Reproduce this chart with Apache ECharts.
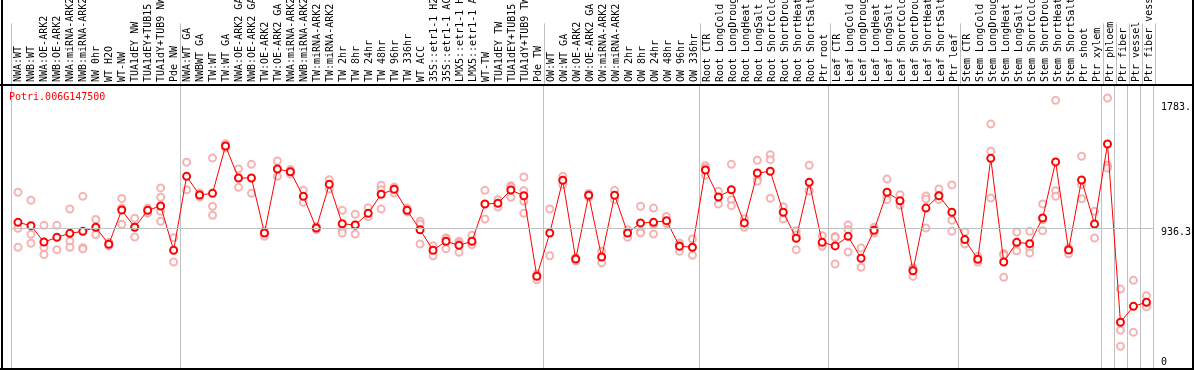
<!DOCTYPE html>
<html><head><meta charset="utf-8">
<script src="https://cdn.jsdelivr.net/npm/echarts@6/dist/echarts.min.js"></script>
<style>html,body{margin:0;padding:0;background:#fff}#c{width:1194px;height:370px}</style>
</head><body><div id="c"></div>
<script>
const geneId = 'Potri.006G147500';
const categories = [
 'NWA:WT','NWB:WT','NWA:OE-ARK2','NWB:OE-ARK2','NWA:miRNA-ARK2','NWB:miRNA-ARK2','NW 0hr','WT H2O','WT-NW','TUA1dEY NW',
 'TUA1dEY+TUB15 NW','TUA1dY+TUB9 NW','Pde NW','NWA:WT GA','NWBWT GA','TW:WT','TW:WT GA','NWA:OE-ARK2 GA','NWB:OE-ARK2 GA','TW:OE-ARK2',
 'TW:OE-ARK2 GA','NWA:miRNA-ARK2 GA','NWB:miRNA-ARK2 GA','TW:miRNA-ARK2','TW:miRNA-ARK2 GA','TW 2hr','TW 8hr','TW 24hr','TW 48hr','TW 96hr',
 'TW 336hr','WT ACC','35S::etr1-1 H2O','35S::etr1-1 ACC','LMX5::etr1-1 H2O','LMX5::etr1-1 ACC','WT-TW','TUA1dEY TW','TUA1dEY+TUB15 TW','TUA1dY+TUB9 TW',
 'Pde TW','OW:WT','OW:WT GA','OW:OE-ARK2','OW:OE-ARK2 GA','OW:miRNA-ARK2','OW:miRNA-ARK2 GA','OW 2hr','OW 8hr','OW 24hr',
 'OW 48hr','OW 96hr','OW 336hr','Root CTR','Root LongCold','Root LongDrought','Root LongHeat','Root LongSalt','Root ShortCold','Root ShortDrought',
 'Root ShortHeat','Root ShortSalt','Ptr root','Leaf CTR','Leaf LongCold','Leaf LongDrought','Leaf LongHeat','Leaf LongSalt','Leaf ShortCold','Leaf ShortDrought',
 'Leaf ShortHeat','Leaf ShortSalt','Ptr leaf','Stem CTR','Stem LongCold','Stem LongDrought','Stem LongHeat','Stem LongSalt','Stem ShortCold','Stem ShortDrought',
 'Stem ShortHeat','Stem ShortSalt','Ptr shoot','Ptr xylem','Ptr phloem','Ptr fiber','Ptr vessel','Ptr fiber vessel'
];
const means = [
 976, 954, 845, 876, 903, 916, 943, 830, 1058, 943,
 1056, 1085, 790, 1282, 1158, 1169, 1484, 1271, 1271, 905,
 1331, 1313, 1149, 938, 1229, 967, 958, 1036, 1163, 1196,
 1056, 927, 790, 850, 823, 850, 1098, 1103, 1191, 1153,
 617, 905, 1256, 732, 1156, 745, 1156, 905, 972, 976,
 987, 817, 810, 1324, 1145, 1193, 972, 1304, 1316, 1043,
 870, 1242, 843, 819, 883, 737, 923, 1176, 1120, 654,
 1071, 1153, 1043, 861, 730, 1402, 712, 843, 834, 1005,
 1378, 792, 1258, 965, 1497, 311, 417, 444
];
const replicates = [
 [1176,936,810],[1123,896,837],[956,809,762],[956,794],[1065,850,810],[1149,807,799],[995,938,895],[842,829,819],[1135,1071,963],[1003,945,878],
 [1071,1058,1038],[1205,1143,1049,983],[874,712],[1376,1193],[1171,1158,1145],[1404,1083,1023],[1499,1484,1471],[1331,1209],[1362,1169],[918,905,883],
 [1384,1282],[1328,1314,1298],[1189,1109],[948,938,927],[1260,1198],[1056,927,905],[1030,958,898],[1073,1014],[1223,1193,1065],[1211,1198,1171],
 [1071,1056,1045],[983,965,832],[821,754],[872,868,801],[850,839,777],[890,835,827],[1189,998],[1127,1078],[1220,1211,1143],[1278,1187,1116,1036],
 [632,617,594],[1065,754],[1282,1227],[742,732,719],[1168,1156,1145],[783,707],[1189,1127],[927,876],[1083,916,905],[1071,960,898],
 [1015,978,968],[839,825,783],[865,757],[1353,1338,1289],[1183,1098],[1362,1127,1087],[1000,943],[1389,1266,1249],[1426,1393,1136],[1080,998],
 [920,892,794],[1356,1187,1185],[887,825,817],[882,875,699],[958,927,779],[805,677],[943,925,905],[1264,1149,1127],[1160,1089],[672,669,617],
 [1151,1131,938],[1198,1158,1127],[1225,990,916],[912,839,832],[750,730,712],[1630,1449,1138],[769,759,610],[912,839,787],[916,805,772],[1098,992,920],
 [1788,1187,1149],[805,799,767],[1416,1227,1133],[1049,872],[1803,1356,1338],[532,258,151],[590,244],[488,433,413]
];
const groupStarts = [0, 13, 41, 53, 63, 73, 84, 85, 86, 87];
const yTickValues = [0, 936.3, 1783];
const yTickLabels = ['0', '936.3', '1783.'];
const refValue = 936.3;

const FONT = 'DejaVu Sans Mono';
const GRID_LEFT = 11.5, GRID_W = 1144, SEP_Y = 85;
const tickStyleKeys = ['z', 'm', 't'];
const isGroupStart = (i) => groupStarts.indexOf(i) >= 0;

const chart = echarts.init(document.getElementById('c'), null, {renderer: 'canvas'});
const paleData = [];
replicates.forEach((r, i) => r.forEach(v => paleData.push([i, v])));

chart.setOption({
  animation: false,
  backgroundColor: '#fff',
  title: {
    text: geneId, left: 9, top: 91, padding: 0,
    textStyle: {color: '#ff0000', fontFamily: FONT, fontSize: 10, fontWeight: 'normal', lineHeight: 12}
  },
  grid: [
    {left: GRID_LEFT, width: GRID_W, top: 0, height: SEP_Y},
    {left: GRID_LEFT, width: GRID_W, top: SEP_Y, bottom: 1}
  ],
  xAxis: [
    {
      gridIndex: 0, type: 'category', data: categories, position: 'bottom',
      axisLine: {show: false}, axisTick: {show: false},
      axisLabel: {show: true, inside: true, rotate: 90, interval: 0, margin: 3,
        color: '#000', fontFamily: FONT, fontSize: 10},
      splitLine: {show: true, interval: (i) => isGroupStart(i), lineStyle: {color: '#c0c0c0', width: 1}}
    },
    {
      gridIndex: 1, type: 'category', data: categories,
      axisLine: {show: false}, axisTick: {show: false}, axisLabel: {show: false},
      splitLine: {show: true, interval: (i) => isGroupStart(i), lineStyle: {color: '#c0c0c0', width: 1}}
    }
  ],
  yAxis: [
    {gridIndex: 0, type: 'value', show: false, min: 0, max: 1},
    {
      gridIndex: 1, type: 'value', position: 'right', min: 0, max: 1890,
      axisLine: {show: false}, axisTick: {show: false}, splitLine: {show: false},
      axisLabel: {
        show: true, customValues: yTickValues, margin: 8, align: 'left',
        color: '#000', fontFamily: FONT, fontSize: 10,
        formatter: (v) => {
          const k = yTickValues.indexOf(v);
          return k < 0 ? '' : '{' + tickStyleKeys[k] + '|' + yTickLabels[k] + '}';
        },
        rich: {
          z: {fontFamily: FONT, fontSize: 10, color: '#000', padding: [0, 0, 13, 0]},
          m: {fontFamily: FONT, fontSize: 10, color: '#000', padding: [8, 0, 0, 0]},
          t: {fontFamily: FONT, fontSize: 10, color: '#000', padding: [12, 0, 0, 0]}
        }
      }
    }
  ],
  series: [
    {
      type: 'scatter', xAxisIndex: 1, yAxisIndex: 1, data: paleData,
      symbol: 'emptyCircle', symbolSize: 7,
      itemStyle: {color: '#f2a0a0', borderColor: '#f09a9a', borderWidth: 1.3},
      silent: true, z: 2,
      markLine: {
        silent: true, symbol: 'none', label: {show: false},
        lineStyle: {color: '#c0c0c0', type: 'solid', width: 1},
        data: [{yAxis: refValue}]
      }
    },
    {
      type: 'line', xAxisIndex: 1, yAxisIndex: 1, data: means,
      symbol: 'emptyCircle', symbolSize: 7, showSymbol: true,
      lineStyle: {color: '#ff0000', width: 1},
      itemStyle: {color: '#ff0000', borderColor: '#ff0000', borderWidth: 1.8},
      silent: true, z: 3
    }
  ],
  graphic: [
    {type: 'line', shape: {x1: 2, y1: 0, x2: 2, y2: 370}, style: {stroke: '#000', lineWidth: 2}, z: 100},
    {type: 'line', shape: {x1: 1193, y1: 0, x2: 1193, y2: 370}, style: {stroke: '#000', lineWidth: 2}, z: 100},
    {type: 'line', shape: {x1: 0, y1: 369, x2: 1194, y2: 369}, style: {stroke: '#000', lineWidth: 2}, z: 100},
    {type: 'line', shape: {x1: 0, y1: SEP_Y, x2: 1194, y2: SEP_Y}, style: {stroke: '#000', lineWidth: 2}, z: 100}
  ]
});
</script>
</body></html>
